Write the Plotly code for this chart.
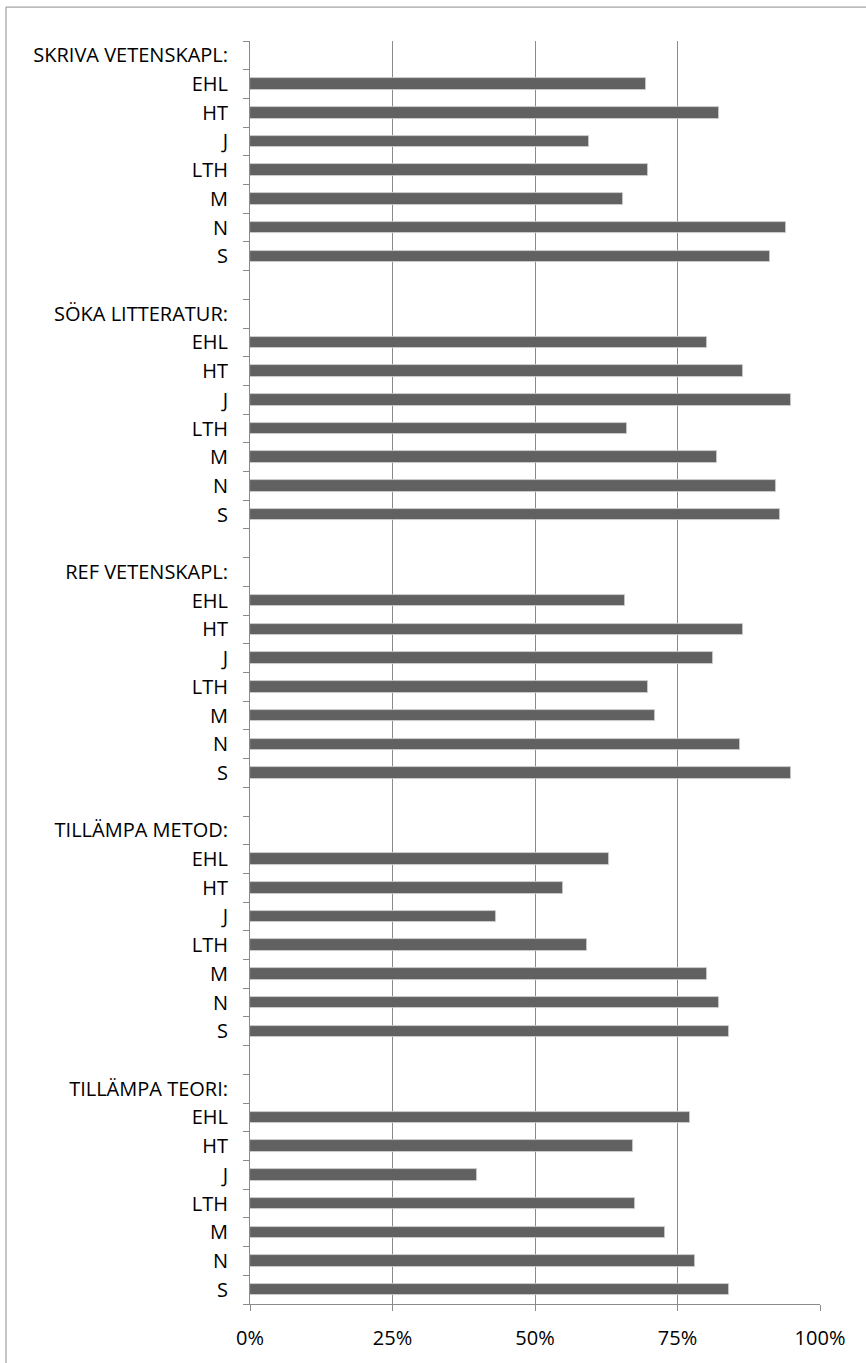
import plotly.graph_objects as go

groups = ["SKRIVA VETENSKAPL:", "SÖKA LITTERATUR:", "REF VETENSKAPL:",
          "TILLÄMPA METOD:", "TILLÄMPA TEORI:"]
units = ["EHL", "HT", "J", "LTH", "M", "N", "S"]

skriva = [0.694, 0.823, 0.594, 0.698, 0.655, 0.940, 0.912]
soka = [0.801, 0.865, 0.949, 0.661, 0.820, 0.923, 0.929]
ref = [0.658, 0.865, 0.812, 0.698, 0.711, 0.859, 0.949]
metod = [0.630, 0.549, 0.432, 0.591, 0.801, 0.823, 0.840]
teori = [0.772, 0.672, 0.398, 0.675, 0.728, 0.781, 0.840]
series = [skriva, soka, ref, metod, teori]

x_ticks = [0, 0.25, 0.5, 0.75, 1.0]
x_labels = ["0%", "25%", "50%", "75%", "100%"]

# build row layout: header row, unit rows, blank row between groups
rows_y, rows_x = [], []
tick_pos, tick_text = [], []
row = 0
for gi, (g, vals) in enumerate(zip(groups, series)):
    tick_pos.append(row)
    tick_text.append(g)
    row += 1
    for u, v in zip(units, vals):
        tick_pos.append(row)
        tick_text.append(u)
        rows_y.append(row)
        rows_x.append(v)
        row += 1
    if gi < len(groups) - 1:
        row += 1
n_rows = row

GRID = "#8a8a8a"
FONT = "Open Sans"
FS = 20

fig = go.Figure()
fig.add_trace(go.Bar(
    x=rows_x, y=rows_y, orientation="h", width=0.4,
    marker=dict(color="#616161", line=dict(color="#d4d4d4", width=0.8)),
    hoverinfo="x", showlegend=False,
))
# invisible trace to activate the boundary-tick axis
fig.add_trace(go.Scatter(x=[None], y=[None], yaxis="y2", showlegend=False))

yrange = [n_rows - 0.5, -0.5]
fig.update_layout(
    width=866, height=1363,
    margin=dict(l=250, r=46, t=41, b=56),
    paper_bgcolor="white", plot_bgcolor="white",
    font=dict(family=FONT, size=FS, color="#000000"),
    xaxis=dict(range=[0, 1], tickvals=x_ticks, ticktext=x_labels,
               showgrid=True, gridcolor=GRID, gridwidth=1,
               showline=True, linecolor=GRID, linewidth=1,
               ticks="outside", ticklen=6, tickcolor=GRID,
               ticklabelstandoff=10,
               zeroline=False, tickfont=dict(size=FS, family=FONT),
               fixedrange=True),
    yaxis=dict(range=yrange, tickvals=tick_pos, ticktext=tick_text,
               showgrid=False, zeroline=False,
               showline=True, linecolor=GRID, linewidth=1,
               ticks="", ticklen=0, ticklabelstandoff=17,
               tickfont=dict(size=FS, family=FONT), fixedrange=True),
    yaxis2=dict(range=yrange, overlaying="y", side="left",
                tickvals=[i - 0.5 for i in range(n_rows + 1)],
                showticklabels=False, showgrid=False, zeroline=False,
                showline=False, ticks="outside", ticklen=6, tickcolor=GRID,
                fixedrange=True),
    bargap=0,
    shapes=[
        dict(type="line", xref="paper", yref="paper",
             x0=(6 - 250) / 570, x1=(870 - 250) / 570,
             y0=1 + 34 / 1266, y1=1 + 34 / 1266,
             line=dict(color="#8c8c8c", width=1)),
        dict(type="line", xref="paper", yref="paper",
             x0=(6 - 250) / 570, x1=(6 - 250) / 570,
             y0=1 + 34 / 1266, y1=-60 / 1266,
             line=dict(color="#8c8c8c", width=1)),
    ],
)

fig.write_html("out.html", config={"displayModeBar": False},
               post_script="document.body.style.margin='0';")
